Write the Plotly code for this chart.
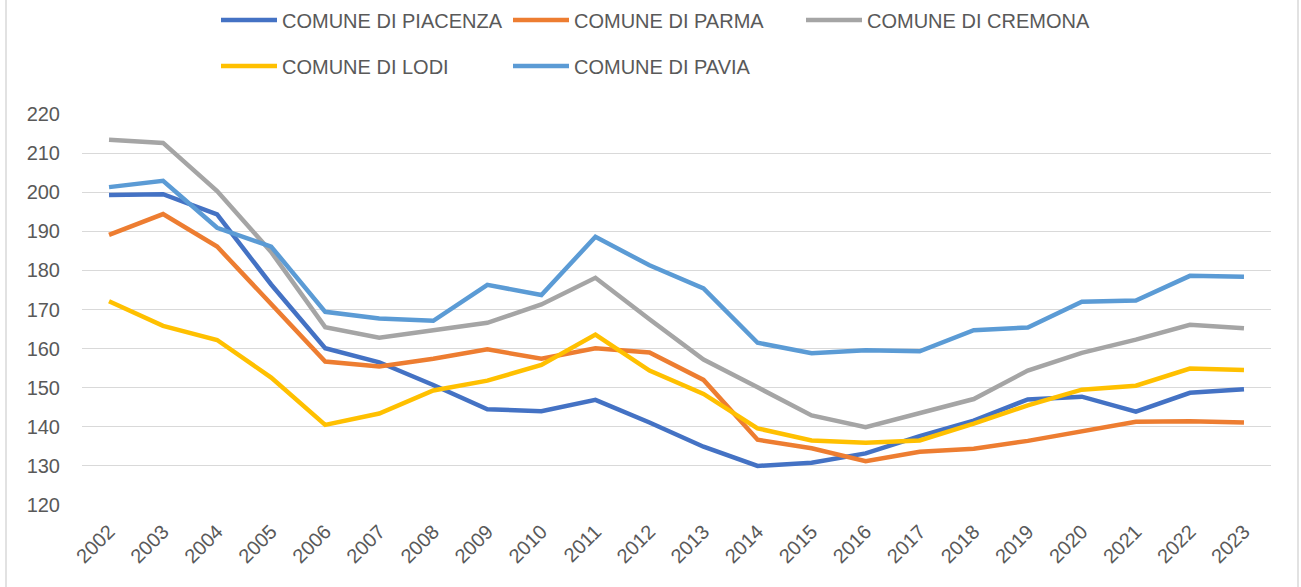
import plotly.graph_objects as go

years = [str(y) for y in range(2002, 2024)]

piacenza = [199.3, 199.5, 194.3, 176.4, 160.1, 156.5, 150.7, 144.5, 144.0, 146.9, 141.1, 134.9,
            130.0, 130.8, 133.2, 137.6, 141.6, 147.0, 147.7, 143.9, 148.7, 149.6]
parma = [189.1, 194.4, 186.1, 171.6, 156.7, 155.4, 157.4, 159.8, 157.4, 160.1, 159.0, 152.0,
         136.7, 134.5, 131.2, 133.6, 134.4, 136.4, 138.8, 141.3, 141.4, 141.1]
cremona = [213.4, 212.6, 200.3, 184.7, 165.5, 162.8, 164.7, 166.6, 171.3, 178.1, 167.5, 157.2,
           150.1, 142.9, 139.9, 143.6, 147.1, 154.4, 158.9, 162.3, 166.1, 165.2]
lodi = [172.1, 165.8, 162.2, 152.6, 140.5, 143.4, 149.3, 151.8, 155.8, 163.6, 154.4, 148.4,
        139.6, 136.5, 135.9, 136.5, 140.8, 145.5, 149.5, 150.5, 154.9, 154.5]
pavia = [201.3, 202.9, 190.9, 186.1, 169.4, 167.7, 167.1, 176.3, 173.7, 188.6, 181.3, 175.4,
         161.5, 158.8, 159.6, 159.3, 164.7, 165.4, 172.0, 172.3, 178.6, 178.4]

# name, values, colour, legend id, legend slot (left px, centre-y px)
series = [
    ("COMUNE DI PIACENZA", piacenza, "#4472C4", "legend", (216, 20)),
    ("COMUNE DI PARMA", parma, "#ED7D31", "legend2", (508, 20)),
    ("COMUNE DI CREMONA", cremona, "#A5A5A5", "legend3", (801, 20)),
    ("COMUNE DI LODI", lodi, "#FFC000", "legend4", (216, 66)),
    ("COMUNE DI PAVIA", pavia, "#5B9BD5", "legend5", (508, 66)),
]

FONT = "Liberation Sans"
TEXT = "#595959"
W, H = 1301, 587

fig = go.Figure()
legends = {}
for name, vals, color, leg, (lx, ly) in series:
    fig.add_trace(go.Scatter(
        x=years, y=vals, name=name, mode="lines",
        line=dict(color=color, width=4.5),
        legend=leg, showlegend=True,
    ))
    legends[leg] = dict(
        orientation="h",
        xref="container", yref="container",
        x=lx / W, y=1 - ly / H,
        xanchor="left", yanchor="middle",
        itemwidth=56,
        font=dict(family=FONT, size=20, color=TEXT),
        bgcolor="rgba(0,0,0,0)",
    )

fig.update_layout(
    width=W, height=H,
    showlegend=True,
    margin=dict(l=82, r=30, t=114, b=82),
    paper_bgcolor="white", plot_bgcolor="white",
    font=dict(family=FONT, size=20, color=TEXT),
    xaxis=dict(
        type="category", showgrid=False, zeroline=False, showline=False,
        tickangle=-45, ticks="", ticklabelstandoff=10,
        tickfont=dict(family=FONT, size=20, color=TEXT),
        range=[-0.5, len(years) - 0.5],
    ),
    yaxis=dict(
        range=[120, 220], dtick=10, showgrid=True, gridcolor="#D9D9D9", gridwidth=1.3,
        zeroline=False, showline=False, ticks="", ticklabelstandoff=21,
        tickfont=dict(family=FONT, size=20, color=TEXT),
    ),
    shapes=[
        dict(type="rect", xref="paper", yref="paper",
             x0=(6 - 82) / 1189, x1=(1298 - 82) / 1189,
             y0=(505 - 592) / 391, y1=(505 + 5) / 391,
             line=dict(color="#D9D9D9", width=1.5), layer="below"),
    ],
    **legends,
)

fig.write_html("out.html")
